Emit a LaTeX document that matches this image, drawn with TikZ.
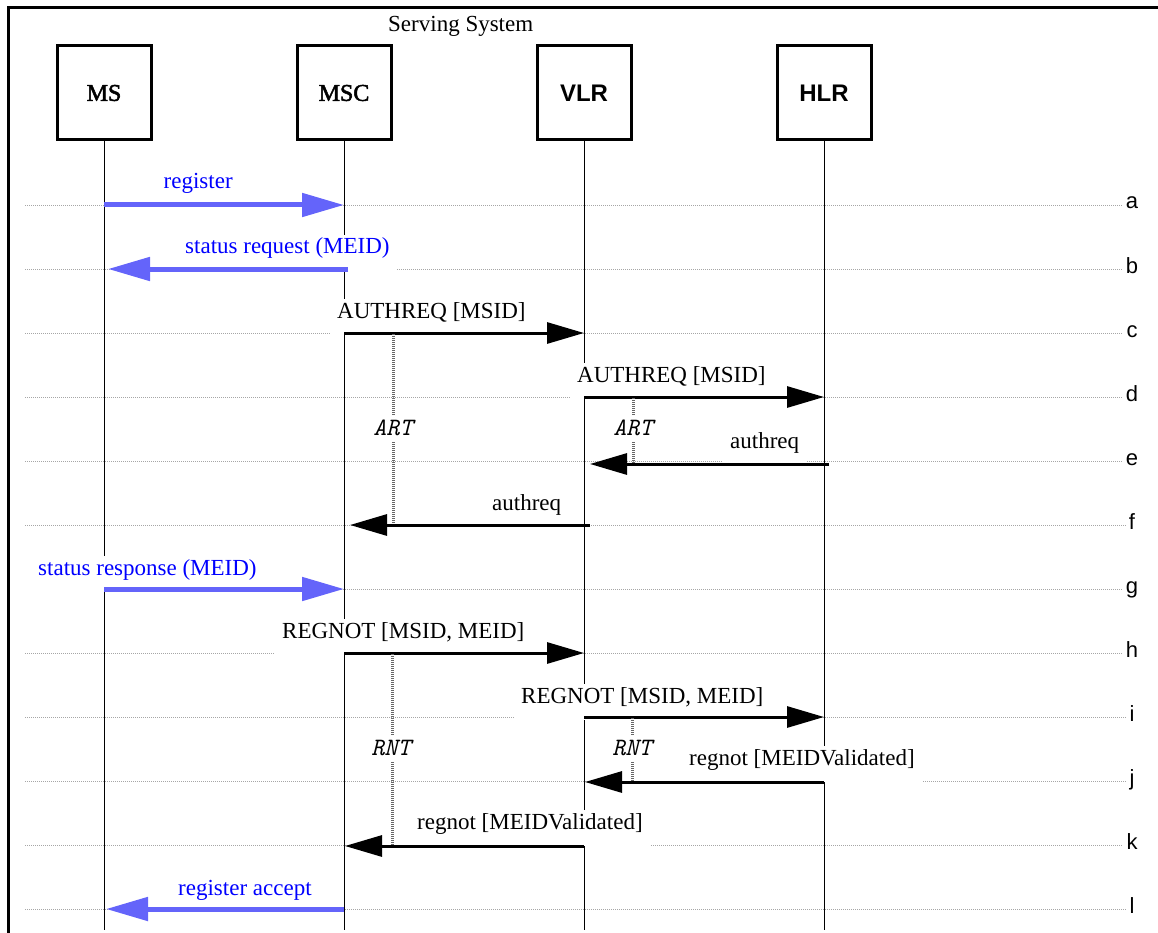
\documentclass[tikz,border=0pt]{standalone}
\usepackage{fontspec}
\setmainfont{Liberation Serif}
\setsansfont{Liberation Sans}
\newfontfamily\entfont{Liberation Serif}[FakeBold=2.2]
\usetikzlibrary{arrows.meta,calc}

\definecolor{msgblue}{RGB}{0,0,255}
\definecolor{hatchblue}{RGB}{100,100,250}
\newcommand{\pxfont}[1]{\fontsize{#1}{#1}\selectfont}

\begin{document}
\begin{tikzpicture}[x=1pt,y=-1pt,
  ent/.style={draw,line width=3pt,minimum width=94pt,minimum height=94pt,inner sep=0pt},
  life/.style={line width=1pt},
  row/.style={gray!70,line width=0.9pt,dash pattern=on 1pt off 1pt},
  msg/.style={line width=3pt,-{Triangle[length=37pt,width=21pt]}},
  bmsg/.style={hatchblue,line width=5pt,-{Triangle[length=42pt,width=23pt]}},
  lbl/.style={anchor=base west,fill=white,inner xsep=7pt,inner ysep=1pt,text height=18pt,text depth=16pt,font=\pxfont{23}},
  blbl/.style={lbl,text=msgblue},
  tmr/.style={black!60,line width=3pt,dash pattern=on 1pt off 1pt},
  tlbl/.style={fill=white,inner xsep=2pt,inner ysep=0pt,minimum height=25pt,font=\ttfamily\itshape\pxfont{25}},
  tag/.style={anchor=base,font=\sffamily\pxfont{22}}]
\useasboundingbox (0,0) rectangle (1158,933);

% frame
\draw[line width=3pt] (8,935) -- (8,8) -- (1160,8);
\node[anchor=base west,inner sep=0pt,font=\pxfont{23}] (serv) at (388,32) {Serving System};

% entities
\node[ent,font=\entfont\pxfont{24}] (ms) at (104,93) {MS};
\node[ent,font=\entfont\pxfont{24}] (msc) at (344,93) {MSC};
\node[ent,font=\sffamily\bfseries\pxfont{24}] (vlr) at (584,93) {VLR};
\node[ent,font=\sffamily\bfseries\pxfont{24}] (hlr) at (824,93) {HLR};

% rows a..l
\foreach \r [count=\i from 0] in {a,...,l} {
  \coordinate (\r) at (0,{205+64*\i});
  \node[tag] (t\r) at (1132,{209+64*\i}) {\r};
  \draw[row] (25,{205+64*\i}) -- (t\r.west |- \r);
}

% lifelines
\coordinate (bot) at (0,930);
\foreach \n in {ms,msc,vlr,hlr} \draw[life] (\n.south) -- (\n.south |- bot);

% labels
\node[blbl] (la) at (156.5,189) {register};
\node[blbl] (lb) at (178,254) {status request (MEID)};
\node[lbl] (lc) at (330,318) {AUTHREQ [MSID]};
\node[lbl] (ld) at (570,382) {AUTHREQ [MSID]};
\node[lbl] (le) at (723,448) {authreq};
\node[lbl] (lf) at (485,510) {authreq};
\node[blbl,inner xsep=13pt] (lg) at (25,575) {status response (MEID)};
\node[lbl] (lh) at (275,638) {REGNOT [MSID, MEID]};
\node[lbl] (li) at (514,703) {REGNOT [MSID, MEID]};
\node[lbl] (lj) at (682,765) {regnot [MEIDValidated]};
\node[lbl] (lk) at (410,829) {regnot [MEIDValidated]};
\node[blbl] (ll) at (171,895) {register accept};

% messages
\draw[bmsg] (ms |- a) -- (msc |- a);
\draw[bmsg] ($(msc |- b)+(4,0)$) -- ($(ms |- b)+(4,0)$);
\draw[msg] (msc |- c) -- (vlr |- c);
\draw[msg] (vlr |- d) -- (hlr |- d);
\draw[msg] ($(hlr |- e)+(5,3)$) -- ($(vlr |- e)+(6,3)$);
\draw[msg] ($(vlr |- f)+(6,0)$) -- ($(msc |- f)+(6,0)$);
\draw[bmsg] (ms |- g) -- (msc |- g);
\draw[msg] (msc |- h) -- (vlr |- h);
\draw[msg] (vlr |- i) -- (hlr |- i);
\draw[msg] ($(hlr |- j)+(0,1)$) -- ($(vlr |- j)+(1,1)$);
\draw[msg] ($(vlr |- k)+(0,1)$) -- ($(msc |- k)+(1,1)$);
\draw[bmsg] (msc |- l) -- ($(ms |- l)+(2,0)$);

% timers
\draw[tmr] ($(msc |- c)+(49,1)$) -- ($(msc |- f)+(49,-1)$); \node[tlbl] (art1) at (393,428) {ART};
\draw[tmr] ($(vlr |- d)+(49,1)$) -- ($(vlr |- e)+(49,2)$); \node[tlbl] (art2) at (633,428) {ART};
\draw[tmr] ($(msc |- h)+(48,1)$) -- ($(msc |- k)+(48,0)$); \node[tlbl] (rnt1) at (391,748) {RNT};
\draw[tmr] ($(vlr |- i)+(48,1)$) -- ($(vlr |- j)+(48,0)$); \node[tlbl] (rnt2) at (632,748) {RNT};
\end{tikzpicture}
\end{document}
